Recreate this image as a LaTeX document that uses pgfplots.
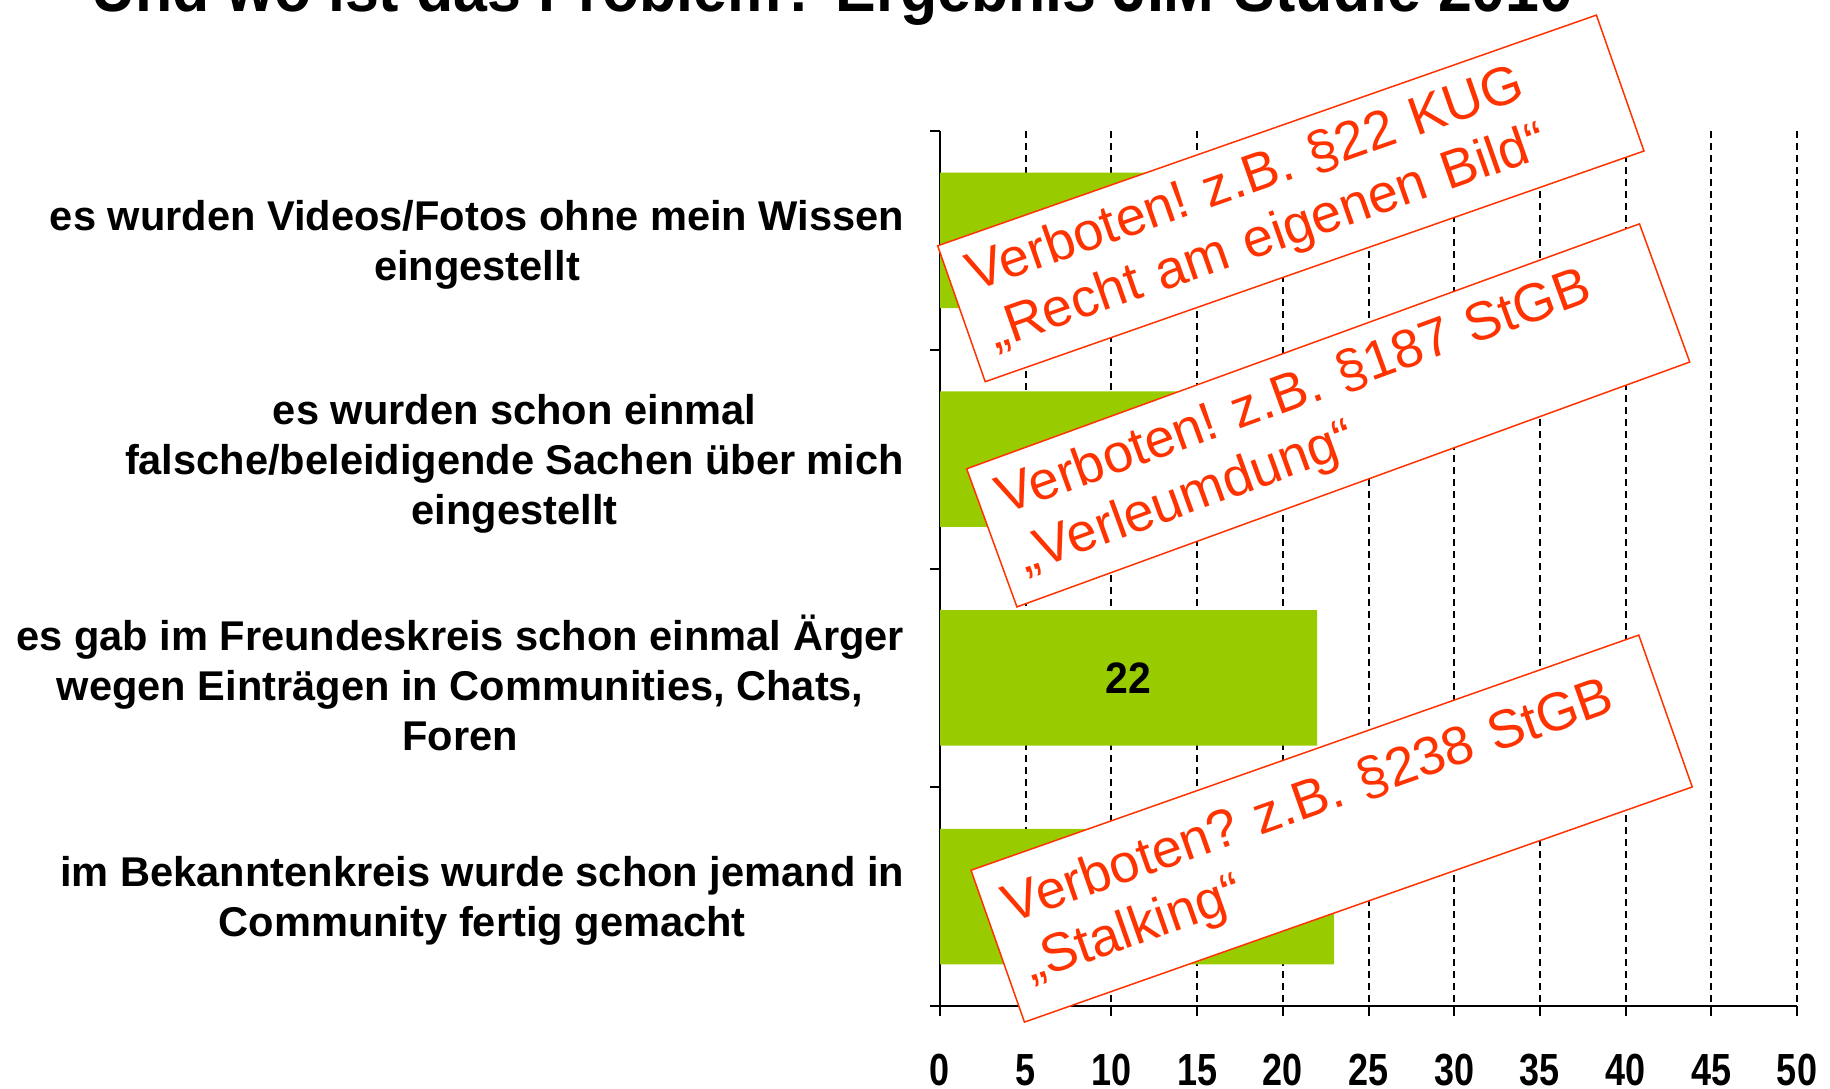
\documentclass[border=0pt]{standalone}
\usepackage{fontspec}
\setmainfont{Liberation Sans}
\usepackage{graphicx}
\usepackage{pgfplots}
\pgfplotsset{compat=1.18}
\definecolor{barg}{RGB}{153,204,0}
\definecolor{lawred}{RGB}{255,51,0}
\frenchspacing
\begin{document}
\begin{tikzpicture}
\useasboundingbox (0,0) rectangle (915pt,544pt);
\clip (0,0) rectangle (915pt,544pt);
\node[anchor=base west, inner sep=0pt, font=\fontsize{33}{36}\selectfont\bfseries] at (45.5pt,538pt) {\resizebox{741pt}{\height}{Und wo ist das Problem? Ergebnis JIM-Studie 2010}};
\begin{axis}[
  at={(470pt,41pt)}, anchor=south west, scale only axis,
  width=428.5pt, height=437.5pt,
  xbar, bar width=0.62,
  xmin=0, xmax=50, ymin=-0.5, ymax=3.5, y dir=reverse,
  axis x line*=bottom, axis y line*=left,
  axis line style={-, line width=1pt, black},
  xtick={0,5,...,50}, tick align=outside, major tick length=5pt,
  tick style={line width=1pt, black},
  xmajorgrids, major grid style={dash pattern=on 3.5pt off 2.5pt, line width=1pt, black},
  ytick={-0.5,0.5,1.5,2.5,3.5}, yticklabels={},
  extra y ticks={0,1,2,3},
  extra y tick labels={{es wurden Videos/Fotos ohne mein Wissen\\eingestellt},{es wurden schon einmal\\falsche/beleidigende Sachen über mich\\eingestellt},{es gab im Freundeskreis schon einmal Ärger\\wegen Einträgen in Communities, Chats,\\Foren},{im Bekanntenkreis wurde schon jemand in\\Community fertig gemacht}},
  extra y tick style={major tick length=0pt, grid=none},
  yticklabel style={align=center, font=\fontsize{20.8}{25}\selectfont\bfseries, anchor=east, inner sep=0pt, xshift=-17.75pt, yshift=-2.3pt},
  /pgf/number format/assume math mode=true,
  xticklabel={\scalebox{0.8}[1]{\pgfmathprintnumber{\tick}}},
  xticklabel style={font=\fontsize{22.5}{24}\selectfont\bfseries, anchor=north, inner sep=0pt, yshift=-19pt},
  visualization depends on={rawx \as \rawx},
  nodes near coords={\scalebox{0.93}[1]{\pgfmathprintnumber{\pgfplotspointmeta}}},
  every node near coord/.append style={font=\fontsize{22}{24}\selectfont\bfseries, anchor=center, inner sep=0pt, shift={(axis direction cs:-\rawx/2,0)}},
]
\addplot[fill=barg, draw=none] coordinates {(13,0) (15,1) (22,2) (23,3)};
\end{axis}
\node[draw=lawred, line width=0.75pt, fill=white, rotate=19.3, minimum width=349pt, minimum height=72pt, text width=329pt, inner xsep=10pt, align=left, text=lawred, font=\fontsize{27}{31}\selectfont] at (645.4pt,444.8pt) {Verboten! z.B. §22 KUG\\„Recht am eigenen Bild“};
\node[draw=lawred, line width=0.75pt, fill=white, rotate=20, minimum width=358pt, minimum height=73.5pt, text width=338pt, inner xsep=10pt, align=left, text=lawred, font=\fontsize{27}{31}\selectfont] at (664.1pt,336.3pt) {Verboten! z.B. §187 StGB\\„Verleumdung“};
\node[draw=lawred, line width=0.75pt, fill=white, rotate=19.4, minimum width=354pt, minimum height=80.5pt, text width=334pt, inner xsep=10pt, align=left, text=lawred, font=\fontsize{27}{31}\selectfont] at (665.8pt,129.7pt) {Verboten? z.B. §238 StGB\\„Stalking“};
\end{tikzpicture}
\end{document}
